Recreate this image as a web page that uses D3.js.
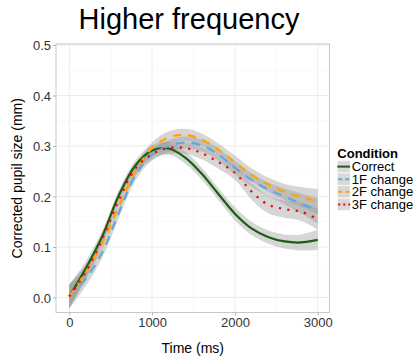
<!DOCTYPE html>
<html><head><meta charset="utf-8">
<script src="https://cdn.jsdelivr.net/npm/d3@7"></script>
<style>body{margin:0;background:#fff;} svg{display:block;font-family:"Liberation Sans",Arial,sans-serif;}</style>
</head><body><div id="chart"></div>
<script>
const time     = [0,200,400,600,800,1000,1200,1400,1600,1800,2000,2200,2400,2600,2800,3000];
const correct  = [0.002,0.058,0.122,0.203,0.262,0.291,0.295,0.277,0.245,0.205,0.166,0.137,0.120,0.111,0.109,0.114];
const change1F = [0.002,0.037,0.090,0.168,0.242,0.283,0.300,0.307,0.301,0.283,0.257,0.233,0.214,0.200,0.186,0.172];
const change2F = [0.002,0.050,0.108,0.182,0.250,0.296,0.317,0.322,0.313,0.293,0.268,0.243,0.224,0.209,0.199,0.190];
const change3F = [0.002,0.051,0.116,0.194,0.256,0.284,0.296,0.296,0.286,0.268,0.247,0.210,0.184,0.175,0.170,0.155];
const seCorrect= [0.024,0.014,0.011,0.010,0.010,0.011,0.012,0.012,0.012,0.012,0.013,0.013,0.013,0.014,0.016,0.020];
const se1F     = [0.024,0.014,0.011,0.010,0.010,0.011,0.012,0.012,0.012,0.012,0.013,0.013,0.014,0.016,0.020,0.025];
const se2F     = [0.024,0.014,0.011,0.010,0.010,0.011,0.012,0.012,0.012,0.012,0.013,0.013,0.014,0.016,0.020,0.025];
const se3F     = [0.024,0.014,0.011,0.010,0.010,0.011,0.012,0.012,0.012,0.013,0.014,0.016,0.017,0.017,0.018,0.021];
const conditions = ["Correct","1F change","2F change","3F change"];
const xTicks = [0,1000,2000,3000];
const xMinor = [500,1500,2500];
const yTicks = [0,0.1,0.2,0.3,0.4,0.5];
const yMinor = [0.05,0.15,0.25,0.35,0.45];

const W=417,H=356;
const P={l:56,r:329.5,t:44,b:312.5};
const svg=d3.select("#chart").append("svg").attr("width",W).attr("height",H);
const x=d3.scaleLinear().domain([0,3000]).range([69.3,317.7]);
const y=d3.scaleLinear().domain([0,0.5]).range([297.5,45]);

svg.append("rect").attr("x",P.l).attr("y",P.t).attr("width",P.r-P.l).attr("height",P.b-P.t).attr("fill","#fff");
const g=svg.append("g");
g.selectAll(".xm").data(xMinor).join("line").attr("x1",d=>x(d)).attr("x2",d=>x(d)).attr("y1",P.t).attr("y2",P.b).attr("stroke","#f5f5f5").attr("stroke-width",0.6);
g.selectAll(".ym").data(yMinor).join("line").attr("x1",P.l).attr("x2",P.r).attr("y1",d=>y(d)).attr("y2",d=>y(d)).attr("stroke","#f5f5f5").attr("stroke-width",0.6);
g.selectAll(".xg").data(xTicks).join("line").attr("x1",d=>x(d)).attr("x2",d=>x(d)).attr("y1",P.t).attr("y2",P.b).attr("stroke","#ececec").attr("stroke-width",1);
g.selectAll(".yg").data(yTicks).join("line").attr("x1",P.l).attr("x2",P.r).attr("y1",d=>y(d)).attr("y2",d=>y(d)).attr("stroke","#ececec").attr("stroke-width",1);

const series=[
 {name:conditions[0],v:correct,se:seCorrect,color:"#1a5e12",dash:null,cap:"butt"},
 {name:conditions[1],v:change1F,se:se1F,color:"#5ea9e0",dash:"9,7",cap:"butt"},
 {name:conditions[2],v:change2F,se:se2F,color:"#ffa500",dash:"8,7",cap:"butt"},
 {name:conditions[3],v:change3F,se:se3F,color:"#ff0000",dash:"2.2,6.3",cap:"butt"}
];
const curve=d3.curveCatmullRom.alpha(0.5);
const area=d3.area().x((d,i)=>x(time[i])).curve(curve);
const line=d3.line().x((d,i)=>x(time[i])).curve(curve);
series.forEach(s=>{
  svg.append("path").datum(s.v.map((v,i)=>[v-s.se[i],v+s.se[i]]))
   .attr("d",area.y0(d=>y(d[0])).y1(d=>y(d[1])))
   .attr("fill","#999").attr("fill-opacity",0.4);
});
series.forEach(s=>{
  svg.append("path").datum(s.v).attr("d",line.y(d=>y(d)))
   .attr("fill","none").attr("stroke",s.color).attr("stroke-width",2.2)
   .attr("stroke-dasharray",s.dash).attr("stroke-linecap",s.cap);
});

svg.append("rect").attr("x",P.l).attr("y",P.t).attr("width",P.r-P.l).attr("height",P.b-P.t).attr("fill","none").attr("stroke","#c8c8c8").attr("stroke-width",1);

const xa=svg.append("g").attr("transform",`translate(0,${P.b})`)
  .call(d3.axisBottom(x).tickValues(xTicks).tickSize(3).tickPadding(2).tickFormat(d3.format("d")));
const ya=svg.append("g").attr("transform",`translate(${P.l},0)`)
  .call(d3.axisLeft(y).tickValues(yTicks).tickSize(3).tickPadding(2).tickFormat(d3.format(".1f")));
[xa,ya].forEach(a=>{a.select(".domain").remove();a.selectAll(".tick line").attr("stroke","#b3b3b3");
  a.selectAll("text").attr("fill","#333").style("font-size","13px").style("font-family","Liberation Sans, Arial, sans-serif");});
xa.selectAll("text").attr("dy","0.75em").attr("y",5);
ya.selectAll("text").attr("dy","0.35em");

svg.append("text").attr("x",(P.l+P.r)/2).attr("y",353).attr("text-anchor","middle").style("font-size","14px").attr("fill","#000").text("Time (ms)");
svg.append("text").attr("transform",`translate(22,${(P.t+P.b)/2}) rotate(-90)`).attr("text-anchor","middle").style("font-size","14px").attr("fill","#000").text("Corrected pupil size (mm)");
svg.append("text").attr("x",189).attr("y",28.5).attr("text-anchor","middle").style("font-size","29px").attr("fill","#000").text("Higher frequency");

const lg=svg.append("g").attr("transform","translate(337.3,0)");
lg.append("text").attr("x",0).attr("y",158.3).style("font-size","13px").style("font-weight","bold").text("Condition");
series.forEach((s,i)=>{
  const ky=160.5+i*12.6;
  lg.append("rect").attr("x",0).attr("y",ky).attr("width",12.8).attr("height",12.2).attr("fill","#d9d9d9").attr("stroke","#fff").attr("stroke-width",0.5);
  lg.append("line").attr("x1",0).attr("x2",12.8).attr("y1",ky+6.1).attr("y2",ky+6.1).attr("stroke",s.color).attr("stroke-width",2)
    .attr("stroke-dasharray",i==0?null:(i==3?"2,3":"4,3")).attr("stroke-dashoffset",-1);
  lg.append("text").attr("x",14.5).attr("y",ky+10.6).style("font-size","13px").attr("fill","#000").text(s.name);
});
</script></body></html>
